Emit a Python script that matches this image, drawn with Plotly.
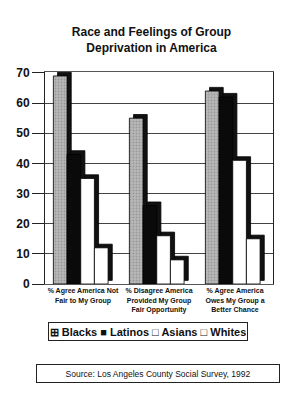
import plotly.graph_objects as go

categories = ["<b>% Agree America Not<br>Fair to My Group</b>",
              "<b>% Disagree America<br>Provided My Group<br>Fair Opportunity</b>",
              "<b>% Agree America<br>Owes My Group a<br>Better Chance</b>"]
blacks = [69, 55, 64]
latinos = [43, 26, 62]
asians = [35, 16, 41]
whites = [12, 8, 15]
series_names = ["Blacks", "Latinos", "Asians", "Whites"]
y_ticks = [0, 10, 20, 30, 40, 50, 60, 70]

series = [blacks, latinos, asians, whites]
colors = ["#b8b8b8", "#0a0a0a", "#ffffff", "#ffffff"]
xpos = list(range(len(categories)))
bw = 0.18
start = -0.39
side = 0.055
depth = 1.2

fig = go.Figure()
for i, (name, vals, col) in enumerate(zip(series_names, series, colors)):
    off = start + i * bw
    fig.add_trace(go.Bar(x=xpos, y=vals, base=[depth] * len(vals), offset=off + side, width=bw,
                         marker=dict(color="#111111", line=dict(color="#000", width=0.8)),
                         showlegend=False, hoverinfo="skip"))
    marker = dict(color=col, line=dict(color="#000", width=0.8))
    if i == 0:
        marker["pattern"] = dict(shape=".", fgcolor="#777777", size=3, solidity=0.3, fillmode="overlay")
    fig.add_trace(go.Bar(x=xpos, y=vals, offset=off, width=bw, name=name, marker=marker,
                         showlegend=False))

fig.update_layout(
    width=303, height=400,
    barmode="overlay",
    paper_bgcolor="white", plot_bgcolor="white",
    margin=dict(l=45, r=30, t=72, b=116),
    font=dict(family="Liberation Sans, Arial, sans-serif", color="#111"),
    title=dict(text="<b>Race and Feelings of Group<br>Deprivation in America</b>",
               x=0.5, xanchor="center", y=0.91, yanchor="middle",
               font=dict(size=12, color="#111")),
    xaxis=dict(range=[-0.5, 2.5], tickmode="array", tickvals=xpos, ticktext=categories,
               tickfont=dict(size=7, color="#111"), showgrid=False, zeroline=False,
               showline=True, linecolor="#555", linewidth=1, mirror=True, ticks=""),
    yaxis=dict(range=[0, 70.3], tickvals=y_ticks,
               tickfont=dict(size=12, color="#111", weight="bold"),
               showgrid=True, gridcolor="#444", gridwidth=0.8, zeroline=False,
               showline=True, linecolor="#222", linewidth=1, mirror=True,
               ticks="outside", ticklen=12, tickcolor="#222"),
)

fig.add_annotation(text="<b>⊞ Blacks ■ Latinos □ Asians □ Whites</b>",
                   xref="paper", yref="paper", x=0.452, y=-0.225,
                   xanchor="center", yanchor="middle", showarrow=False,
                   font=dict(size=11, color="#111"),
                   bordercolor="#222", borderwidth=1, width=196, height=15, bgcolor="white")
fig.add_annotation(text="Source: Los Angeles County Social Survey, 1992",
                   xref="paper", yref="paper", x=0.496, y=-0.4245,
                   xanchor="center", yanchor="middle", showarrow=False,
                   font=dict(size=8.5, color="#111"),
                   bordercolor="#222", borderwidth=1, width=240, height=15, bgcolor="white")

fig.write_html("out.html")
